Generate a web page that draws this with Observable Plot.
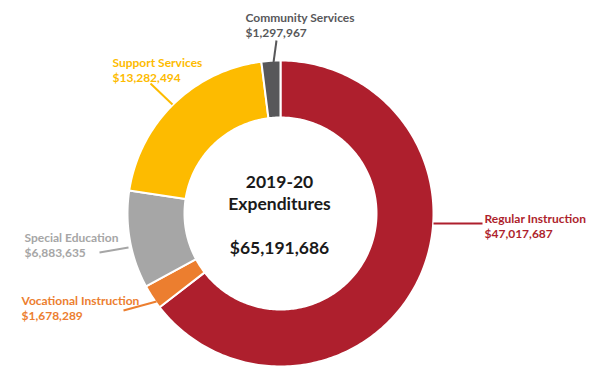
<!DOCTYPE html>
<html><head><meta charset="utf-8">
<script src="https://cdn.jsdelivr.net/npm/d3@7"></script>
<script src="https://cdn.jsdelivr.net/npm/@observablehq/plot@0.6"></script>
<style>body{margin:0;background:#fff}#chart svg{display:block}</style>
</head><body><div id="chart"></div>
<script>
// ---- data ----
const categories = ["Regular Instruction", "Vocational Instruction", "Special Education", "Support Services", "Community Services"];
const amounts = ["$47,017,687", "$1,678,289", "$6,883,635", "$13,282,494", "$1,297,967"];
// slice shares (%) as drawn in the picture, clockwise from 12 o'clock
const shares = [64.5, 2.6, 10.3, 20.6, 2.0];
const colors = ["#AE1F2D", "#EC7E2F", "#A6A6A6", "#FDBB00", "#58585A"];
const centerTitle = ["2019-20", "Expenditures", "", "$65,191,686"];

// ---- layout (pixels) ----
const W = 600, H = 389;
const cx = 280, cy = 213, rOuter = 153, rInner = 96;
const labelLayout = [
  {x: 484, base: 220, leader: [433, 223, 482, 223]},
  {x: 21,  base: 302, leader: [123, 310, 156, 301]},
  {x: 24,  base: 239, leader: [99, 252, 128, 247]},
  {x: 112, base: 64,  leader: [150, 83, 172, 104]},
  {x: 245, base: 19,  leader: [276, 40, 273, 62]}
];
const fs = 12;

// ring polygons from shares
const ring = [];
let acc = 0;
const total = d3.sum(shares);
shares.forEach((s, i) => {
  const a0 = acc / total * 2 * Math.PI; acc += s;
  const a1 = acc / total * 2 * Math.PI;
  const n = Math.max(2, Math.ceil((a1 - a0) / (Math.PI / 180)));
  const pts = [];
  for (let k = 0; k <= n; k++) { const a = a0 + (a1 - a0) * k / n; pts.push([rOuter, a]); }
  for (let k = n; k >= 0; k--) { const a = a0 + (a1 - a0) * k / n; pts.push([rInner, a]); }
  pts.forEach(([r, a]) => ring.push({category: categories[i], x: cx + r * Math.sin(a), y: cy - r * Math.cos(a)}));
});

const labels = categories.map((c, i) => ({
  category: c,
  text: c + "\n" + amounts[i],
  x: labelLayout[i].x,
  y: labelLayout[i].base - 0.71 * fs,
  x1: labelLayout[i].leader[0], y1: labelLayout[i].leader[1],
  x2: labelLayout[i].leader[2], y2: labelLayout[i].leader[3]
}));

const chart = Plot.plot({
  width: W, height: H,
  margin: 0,
  x: {domain: [0, W], range: [0, W], axis: null},
  y: {domain: [0, H], range: [0, H], axis: null},
  color: {domain: categories, range: colors},
  style: {fontFamily: "Lato, sans-serif", background: "#fff"},
  marks: [
    Plot.line(ring, {x: "x", y: "y", z: "category", fill: "category", stroke: "white", strokeWidth: 2, curve: "linear-closed"}),
    Plot.link(labels, {x1: "x1", y1: "y1", x2: "x2", y2: "y2", stroke: "category", strokeWidth: 2}),
    Plot.text(labels, {x: "x", y: "y", text: "text", fill: "category", textAnchor: "start", lineAnchor: "top", fontSize: fs, fontWeight: "bold", lineHeight: 1.25}),
    Plot.text([centerTitle.join("\n")], {x: () => cx - 1, y: () => 185 - 0.71 * 17.5, text: d => d, fill: "#1a1a1a", textAnchor: "middle", lineAnchor: "top", fontSize: 17.5, fontWeight: "bold", lineHeight: 1.24})
  ]
});
document.getElementById("chart").appendChild(chart);
</script>
</body></html>
